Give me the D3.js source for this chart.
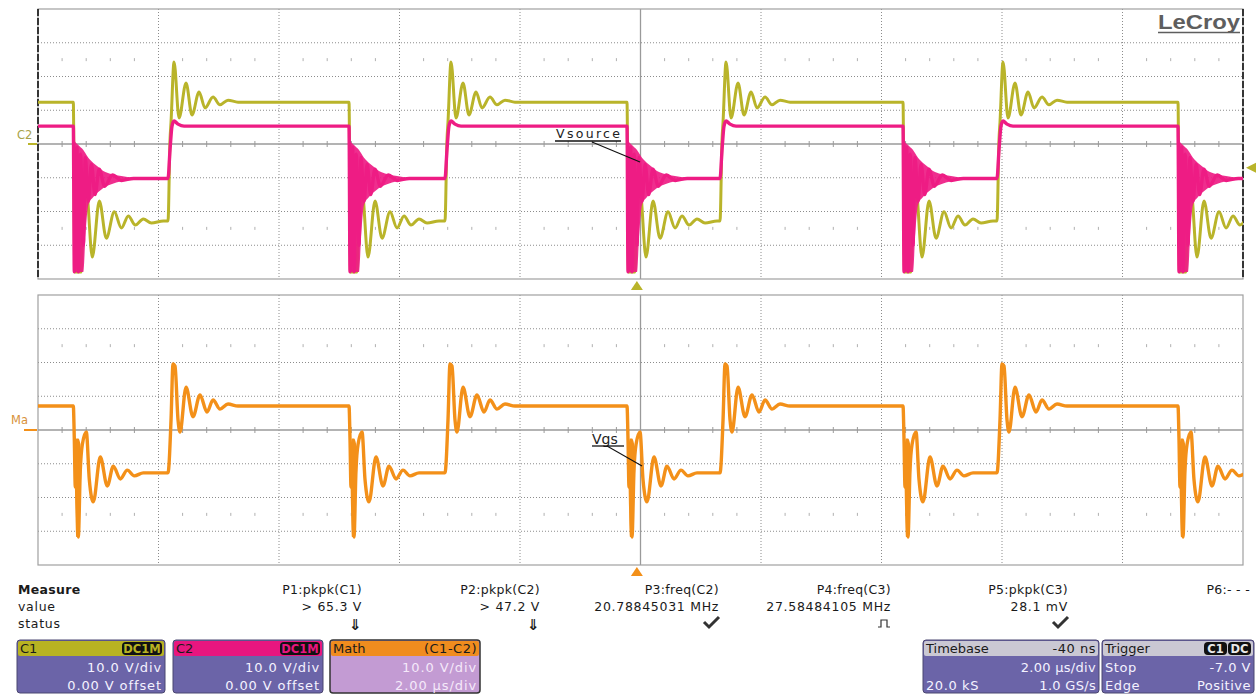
<!DOCTYPE html>
<html>
<head>
<meta charset="utf-8">
<script src="https://cdn.jsdelivr.net/npm/d3@7"></script>
<style>
  html,body{margin:0;padding:0;background:#fff;}
  svg{display:block;font-family:"DejaVu Sans","Liberation Sans",Arial,sans-serif;}
</style>
</head>
<body>
<svg id="scope" width="1257" height="694"></svg>
<script>
// ---- data (time in µs, offsets in ns, volts) ----
const timeDomain = [-10, 10];
const voltDomain = [-40, 40];
const fallTimes = [-9.414, -4.838, -0.224, 4.357, 8.921];
const riseTimes = [-7.842, -3.245, 1.320, 5.917];

// C1 (yellow)
const c1High = 12.4;
const c1Fall = [[0,12.4],[25,-37.9],[133,-37.9],[150,-26],[216,-13.6],[315,-33.5],[432,-16.9],[548,-27.9],[681,-20.1],[797,-24.9],[913,-21.3],[1029,-24.0],[1162,-22.2],[1295,-23.4],[1494,-22.8]];
const c1Rise = [[0,-22.8],[33,1.2],[50,6.5],[100,24.3],[183,7.7],[299,18.1],[398,8.6],[515,15.4],[614,10.7],[747,13.9],[863,11.6],[996,13.0],[1162,12.4]];

// C2 (magenta)
const c2High = 5.3;
const c2Fall = [[0,5.3],[17,-37.9],[60,-1],[83,-37.9],[120,-3],[166,-30],[199,-4],[249,-17],[300,-6],[360,-15],[430,-7.5],[520,-12.5],[650,-9.2],[800,-10.8],[1000,-10.2]];
const c2Rise = [[0,-10.2],[33,-1.8],[66,5.3],[100,6.8],[166,5.9],[266,5.3]];
const c2BandNs = [0,17,83,166,199,249,332,415,498,631,797,996];
const c2BandTop = [5.3,1.2,-0.3,-1.8,-2.7,-4.1,-5.6,-6.8,-8.0,-8.9,-9.5,-10.1];
const c2BandBottom = [5.3,-37.9,-37.9,-37.9,-28.4,-18.1,-15.7,-14.2,-13.0,-11.9,-11.0,-10.4];

// Math C1-C2 (orange)
const mHigh = 7.1;
const mFall = [[0,7.1],[17,-3.0],[33,-16.9],[50,-5.9],[83,-31.7],[116,-11.9],[149,-4.4],[216,-0.6],[266,-14.8],[332,-21.3],[448,-8.0],[564,-16.6],[664,-10.7],[780,-14.5],[896,-11.9],[1012,-13.6],[1162,-12.7]];
const mRise = [[0,-12.7],[50,3.0],[83,19.6],[116,19.0],[166,3.0],[199,-0.6],[299,12.7],[415,3.9],[531,10.4],[647,5.3],[747,8.9],[863,6.2],[996,7.7],[1162,7.1]];
const mBandNs = [25,50,83,116,135];
const mBandTop = [-5,-2.5,-2.5,-4,-10];
const mBandBottom = [-15,-31.7,-31.7,-20,-12];

// measurement table
const measNames = ['P1:pkpk(C1)','P2:pkpk(C2)','P3:freq(C2)','P4:freq(C3)','P5:pkpk(C3)','P6:- - -'];
const measValues = ['> 65.3 V','> 47.2 V','20.78845031 MHz','27.58484105 MHz','28.1 mV',''];
const measStatus = ['down','down','ok','pulse','ok',''];

const trigLevel = -7.0;   // V on C1
const trigDelay = -0.04;  // µs

// ---- layout ----
const svg = d3.select('#scope');
const L = 38, R = 1243;
const panels = [{top:9, bottom:279, id:'top'}, {top:295, bottom:565, id:'bot'}];
const x = d3.scaleLinear().domain(timeDomain).range([L, R]);
const yTop = d3.scaleLinear().domain(voltDomain).range([panels[0].bottom, panels[0].top]);
const yBot = d3.scaleLinear().domain(voltDomain).range([panels[1].bottom, panels[1].top]);

const C1 = '#b9b42a', C2 = '#ee1c84', MATH = '#f39019';

function buildTrace(high, fallShape, riseShape){
  const events = fallTimes.map(t=>({t, s:fallShape})).concat(riseTimes.map(t=>({t, s:riseShape}))).sort((a,b)=>a.t-b.t);
  const pts = [[timeDomain[0], high]];
  events.forEach(e=>e.s.forEach(([ns,v])=>pts.push([e.t + ns/1000, v])));
  pts.push([timeDomain[1], pts[pts.length-1][1]]);
  return pts;
}

const defs = svg.append('defs');
panels.forEach(p=>{
  defs.append('clipPath').attr('id','clip-'+p.id).append('rect')
    .attr('x',L).attr('y',p.top).attr('width',R-L).attr('height',p.bottom-p.top);
});

function drawGrid(p, y){
  const g = svg.append('g');
  // dotted division lines
  g.selectAll('.vx').data(d3.range(-8,10,2).filter(d=>d!==0)).join('line')
    .attr('x1',d=>x(d)).attr('x2',d=>x(d)).attr('y1',p.top).attr('y2',p.bottom)
    .attr('stroke','#8c8c8c').attr('stroke-dasharray','1,2');
  g.selectAll('.hy').data([-30,-20,-10,10,20,30]).join('line')
    .attr('x1',L).attr('x2',R).attr('y1',d=>y(d)).attr('y2',d=>y(d))
    .attr('stroke','#8c8c8c').attr('stroke-dasharray','1,2');
  // small marks rows at +/-2.5 div
  const minor = d3.range(-9.6,10,0.4).filter(d=>Math.abs(d/2-Math.round(d/2))>0.01);
  [25,-25].forEach(v=>{
    g.selectAll(null).data(minor).join('line')
      .attr('x1',d=>x(d)).attr('x2',d=>x(d)).attr('y1',y(v)-1.5).attr('y2',y(v)+1.5)
      .attr('stroke','#b0b0b0');
  });
  // centre axes
  g.append('line').attr('x1',L).attr('x2',R).attr('y1',y(0)).attr('y2',y(0)).attr('stroke','#9a9a9a').attr('stroke-width',1.3);
  g.append('line').attr('x1',x(0)).attr('x2',x(0)).attr('y1',p.top).attr('y2',p.bottom).attr('stroke','#9a9a9a').attr('stroke-width',1.3);
  g.selectAll(null).data(minor).join('line')
    .attr('x1',d=>x(d)).attr('x2',d=>x(d)).attr('y1',y(0)-3).attr('y2',y(0)+3)
    .attr('stroke','#9a9a9a');
  g.append('rect').attr('x',L).attr('y',p.top).attr('width',R-L).attr('height',p.bottom-p.top)
    .attr('fill','none').attr('stroke','#a0a0a0').attr('stroke-width',1.2);
}
drawGrid(panels[0], yTop);
drawGrid(panels[1], yBot);
// black dashed edges of top grid
[L,R].forEach(px=>svg.append('line').attr('x1',px).attr('x2',px).attr('y1',panels[0].top).attr('y2',panels[0].bottom)
  .attr('stroke','#111').attr('stroke-width',1.6).attr('stroke-dasharray','7,2'));

// ---- traces ----
const floorV = voltDomain[0]+0.6;
const lineTop = d3.line().x(d=>x(d[0])).y(d=>yTop(Math.max(floorV,d[1]))).curve(d3.curveMonotoneX);
const lineBot = d3.line().x(d=>x(d[0])).y(d=>yBot(d[1])).curve(d3.curveMonotoneX);

const gTop = svg.append('g').attr('clip-path','url(#clip-top)');
gTop.append('path').datum(buildTrace(c1High,c1Fall,c1Rise)).attr('d',lineTop)
  .attr('fill','none').attr('stroke',C1).attr('stroke-width',3).attr('stroke-linejoin','round');

const bandTop = d3.area().x(d=>x(d.t)).y0(d=>yTop(Math.max(floorV,d.lo))).y1(d=>yTop(d.hi)).curve(d3.curveMonotoneX);
fallTimes.forEach(ft=>{
  const bd = c2BandNs.map((ns,i)=>({t: ft+ns/1000, hi:c2BandTop[i], lo:c2BandBottom[i]}));
  gTop.append('path').datum(bd).attr('d',bandTop).attr('fill',C2).attr('opacity',0.92);
});
gTop.append('path').datum(buildTrace(c2High,c2Fall,c2Rise)).attr('d',lineTop)
  .attr('fill','none').attr('stroke',C2).attr('stroke-width',3.4).attr('stroke-linejoin','round');

const gBot = svg.append('g').attr('clip-path','url(#clip-bot)');
const bandBot = d3.area().x(d=>x(d.t)).y0(d=>yBot(d.lo)).y1(d=>yBot(d.hi)).curve(d3.curveMonotoneX);
fallTimes.forEach(ft=>{
  const bd = mBandNs.map((ns,i)=>({t: ft+ns/1000, hi:mBandTop[i], lo:mBandBottom[i]}));
  gBot.append('path').datum(bd).attr('d',bandBot).attr('fill',MATH);
});
gBot.append('path').datum(buildTrace(mHigh,mFall,mRise)).attr('d',lineBot)
  .attr('fill','none').attr('stroke',MATH).attr('stroke-width',3.4).attr('stroke-linejoin','round');

// ---- markers ----
svg.append('text').attr('x',17).attr('y',yTop(0)-5).attr('font-size',11.5).attr('fill','#a9a24a').text('C2');
svg.append('line').attr('x1',28).attr('x2',37).attr('y1',yTop(0)).attr('y2',yTop(0)).attr('stroke',C1).attr('stroke-width',2);
svg.append('text').attr('x',11).attr('y',yBot(0)-6).attr('font-size',11.5).attr('fill','#d8923a').text('Ma');
svg.append('line').attr('x1',24).attr('x2',37).attr('y1',yBot(0)).attr('y2',yBot(0)).attr('stroke',MATH).attr('stroke-width',2);
// trigger level (right) and trigger position (bottom)
const ty = yTop(trigLevel);
svg.append('path').attr('d',`M${R+3},${ty} L${R+13},${ty-5} L${R+13},${ty+5} Z`).attr('fill',C1);
const tx = x(-trigDelay - 0.1);
svg.append('path').attr('d',`M${tx},${panels[0].bottom+2} L${tx-6},${panels[0].bottom+11} L${tx+6},${panels[0].bottom+11} Z`).attr('fill',C1);
svg.append('path').attr('d',`M${tx},${panels[1].bottom+2} L${tx-6},${panels[1].bottom+11} L${tx+6},${panels[1].bottom+11} Z`).attr('fill',MATH);

// LeCroy logo
svg.append('text').attr('x',1158).attr('y',29).attr('font-family','"Liberation Sans",Arial').attr('font-size',20)
  .attr('font-weight','bold').attr('fill','#5e5e5e').attr('textLength',82).attr('lengthAdjust','spacingAndGlyphs').text('LeCroy');
svg.append('line').attr('x1',1158).attr('x2',1240).attr('y1',32.5).attr('y2',32.5).attr('stroke','#5e5e5e').attr('stroke-width',1.6);

// annotations
svg.append('text').attr('x',556).attr('y',138).attr('font-size',12.5).attr('fill','#222').attr('textLength',64).text('Vsource');
svg.append('line').attr('x1',555).attr('x2',621).attr('y1',141).attr('y2',141).attr('stroke','#111').attr('stroke-width',1.3);
svg.append('line').attr('x1',592).attr('x2',640).attr('y1',142).attr('y2',162).attr('stroke','#111').attr('stroke-width',1.2);
svg.append('text').attr('x',592).attr('y',444).attr('font-size',14).attr('fill','#222').text('Vgs');
svg.append('line').attr('x1',592).attr('x2',624).attr('y1',446).attr('y2',446).attr('stroke','#111').attr('stroke-width',1.3);
svg.append('line').attr('x1',607).attr('x2',642).attr('y1',446).attr('y2',466).attr('stroke','#111').attr('stroke-width',1.1);

// ---- measurement table ----
const colRight = [362, 540, 719, 891, 1068, 1250];
const tbl = svg.append('g').attr('font-size',12.5).attr('fill','#1a1a1a').attr('letter-spacing',0.7);
tbl.append('text').attr('x',18).attr('y',594).attr('font-weight','bold').attr('letter-spacing',0.3).text('Measure');
tbl.append('text').attr('x',18).attr('y',611).text('value');
tbl.append('text').attr('x',18).attr('y',628).text('status');
tbl.selectAll('.mn').data(measNames).join('text').attr('x',(d,i)=>colRight[i]).attr('y',594).attr('text-anchor','end').attr('letter-spacing',0.3).text(d=>d);
tbl.selectAll('.mv').data(measValues).join('text').attr('x',(d,i)=>colRight[i]).attr('y',611).attr('text-anchor','end').text(d=>d);
measStatus.forEach((s,i)=>{
  const cx = colRight[i]-7;
  if(s==='down') tbl.append('text').attr('x',cx).attr('y',630).attr('text-anchor','middle').attr('font-size',15).attr('font-weight','bold').attr('letter-spacing',0).text('\u21D3');
  if(s==='ok') tbl.append('path').attr('d',`M${cx-8},${622} L${cx-3},${627} L${cx+7},${617}`).attr('fill','none').attr('stroke','#333').attr('stroke-width',3);
  if(s==='pulse') tbl.append('path').attr('d',`M${cx-6},${627} L${cx-3},${627} L${cx-3},${620} L${cx+3},${620} L${cx+3},${627} L${cx+6},${627}`).attr('fill','none').attr('stroke','#333').attr('stroke-width',1.2);
});

// ---- channel / timebase boxes ----
function box(x0, x1, head, body, headL, headR, lines, opts={}){
  const g = svg.append('g').attr('font-size',13);
  const y0 = 640, y1 = 693, hy = 656;
  g.append('rect').attr('x',x0).attr('y',y0).attr('width',x1-x0).attr('height',y1-y0).attr('rx',3)
    .attr('fill',body).attr('stroke',opts.border||'#4b4670').attr('stroke-width',opts.bw||1);
  g.append('rect').attr('x',x0+1).attr('y',y0+1).attr('width',x1-x0-2).attr('height',hy-y0-1).attr('rx',2).attr('fill',head);
  g.append('text').attr('x',x0+3).attr('y',y0+13).attr('fill','#1a1a1a').text(headL);
  if(opts.badge){
    let bx = x1-3;
    opts.badge.slice().reverse().forEach(b=>{
      const w = b.length*8.5+6;
      bx -= w;
      g.append('rect').attr('x',bx).attr('y',y0+2).attr('width',w).attr('height',13).attr('rx',4).attr('fill','#111');
      g.append('text').attr('x',bx+w/2).attr('y',y0+13).attr('text-anchor','middle').attr('font-size',11.5)
        .attr('font-weight','bold').attr('fill',opts.badgeColor).text(b);
      bx -= 1;
    });
  } else if(headR){
    g.append('text').attr('x',x1-3).attr('y',y0+13).attr('text-anchor','end').attr('fill','#1a1a1a').attr('letter-spacing',0.5).text(headR);
  }
  lines.forEach((ln,i)=>{
    const by = 672 + i*17.5;
    if(ln[0]) g.append('text').attr('x',x0+3).attr('y',by).attr('fill',opts.text||'#f4f2ff').attr('letter-spacing',0.6).text(ln[0]);
    if(ln[1]) g.append('text').attr('x',x1-3).attr('y',by).attr('text-anchor','end').attr('fill',opts.text||'#f4f2ff').attr('letter-spacing',opts.ls==null?0.9:opts.ls).text(ln[1]);
  });
}
const BODY = '#6b64a8', GRAYH = '#cac8d3';
box(17,165,'#b8b322',BODY,'C1','',[['','10.0 V/div'],['','0.00 V offset']],{badge:['DC1M'],badgeColor:'#b8b322'});
box(173,323,'#e8167f',BODY,'C2','',[['','10.0 V/div'],['','0.00 V offset']],{badge:['DC1M'],badgeColor:'#e8167f'});
box(330,480,'#f08c1e','#c39bd3','Math','(C1-C2)',[['','10.0 V/div'],['','2.00 \u00B5s/div']],{border:'#333',bw:1.5,text:'#f5e9fa'});
box(923,1099,GRAYH,BODY,'Timebase','-40 ns',[['','2.00 \u00B5s/div'],['20.0 kS','1.0 GS/s']],{ls:0.3});
box(1102,1254,GRAYH,BODY,'Trigger','',[['Stop','-7.0 V'],['Edge','Positive']],{badge:['C1','DC'],badgeColor:'#e8e8e8',ls:0.5});
</script>
</body>
</html>
